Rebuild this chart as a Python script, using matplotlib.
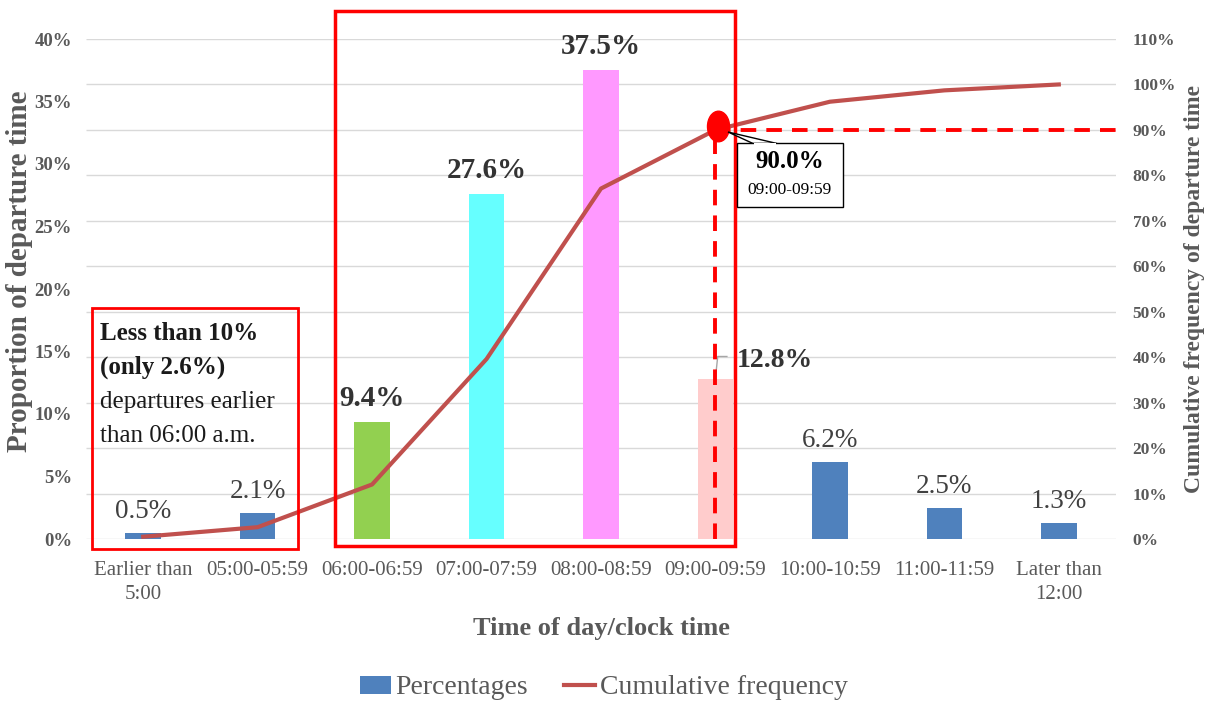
import matplotlib.pyplot as plt
import numpy as np
from matplotlib.patches import Rectangle, Polygon
from matplotlib.path import Path
from matplotlib.transforms import Affine2D

plt.rcParams['font.family'] = ['Liberation Serif', 'DejaVu Serif']

# departure time distribution
slots = ['Earlier than\n5:00', '05:00-05:59', '06:00-06:59', '07:00-07:59', '08:00-08:59',
         '09:00-09:59', '10:00-10:59', '11:00-11:59', 'Later than\n12:00']
share = [0.5, 2.1, 9.4, 27.6, 37.5, 12.8, 6.2, 2.5, 1.3]
cumulative = [0.5, 2.6, 12.0, 39.6, 77.1, 90.0, 96.2, 98.7, 100.0]
bar_colors = ['#4F81BD', '#4F81BD', '#92D050', '#66FFFF', '#FF99FF',
              '#FFCCCC', '#4F81BD', '#4F81BD', '#4F81BD']
bold_label = [False, False, True, True, True, True, False, False, False]
left_ticks = [0, 5, 10, 15, 20, 25, 30, 35, 40]
right_ticks = [0, 10, 20, 30, 40, 50, 60, 70, 80, 90, 100, 110]
note_lines = ['Less than 10%', '(only 2.6%)', 'departures earlier', 'than 06:00 a.m.']
peak_idx = 5

W, H = 1208, 705
fig = plt.figure(figsize=(W / 100, H / 100), dpi=100)
ax = fig.add_axes([86 / W, 1 - 539 / H, 1030 / W, 500 / H])
ax2 = ax.twinx()

x = np.arange(len(slots))
grey = '#595959'

# grid follows the right-hand axis
ax.set_ylim(0, 40)
ax2.set_ylim(0, 110)
ax.set_xlim(-0.5, len(slots) - 0.5)
ax.hlines(np.array(right_ticks) * 40 / 110, -0.5, len(slots) - 0.5,
          color='#D9D9D9', lw=1, zorder=0)

ax.bar(x, share, width=0.31, color=bar_colors, zorder=2, label='Percentages')
ax2.plot(x, cumulative, color='#C0504D', lw=3, label='Cumulative frequency', zorder=3)

for i, v in enumerate(share):
    if i == peak_idx:
        ax.text(i + 0.19, v + 1.5, f'{v}%', ha='left', va='center',
                fontsize=20, fontweight='bold', color='#333333')
        ax.plot([i, i + 0.02, i + 0.1], [v + 0.1, v + 1.8, v + 1.8], color='#A6A6A6', lw=1,
                zorder=3)
    elif bold_label[i]:
        ax.text(i, v + 0.8, f'{v}%', ha='center', va='bottom', fontsize=21,
                fontweight='bold', color='#333333')
    else:
        ax.text(i, v + 0.7, f'{v}%', ha='center', va='bottom', fontsize=19.5, color='#404040')

# 90% marker with dashed guides
ax2.plot([peak_idx, len(slots) - 0.5], [cumulative[peak_idx]] * 2, color='red', lw=2.8,
         dashes=(4, 2.6), zorder=4, clip_on=False)
ax2.plot([peak_idx, peak_idx], [0, cumulative[peak_idx]], color='red', lw=2.8,
         dashes=(4, 2.6), zorder=4)
oval = Path.unit_circle().transformed(Affine2D().scale(0.72, 1.0))
ax2.plot(peak_idx + 0.02, cumulative[peak_idx] + 0.9, marker=oval, color='red', ms=22,
         ls='none', zorder=5)

# callout for the 90% point
px = lambda xp, yp: (xp / W, 1 - yp / H)
fig.patches.append(Polygon([px(728, 132), px(753, 143.5), px(777, 143.5)], closed=True,
                           transform=fig.transFigure, fc='white', ec='black', lw=1, zorder=11))
fig.patches.append(Rectangle(px(737, 207), 106 / W, 64 / H, transform=fig.transFigure,
                             fc='white', ec='black', lw=1, zorder=12))
fig.patches.append(Polygon([px(754, 144), px(776, 144)], closed=False,
                           transform=fig.transFigure, ec='white', lw=1.5, zorder=12.5))
fig.text(790 / W, 1 - 162 / H, f'{cumulative[peak_idx]:.1f}%', ha='center', va='center',
         fontsize=18, fontweight='bold', color='black', zorder=13)
fig.text(790 / W, 1 - 190 / H, slots[peak_idx], ha='center', va='center', fontsize=12.5,
         color='black', zorder=13)

# highlight boxes
fig.patches.append(Rectangle(px(335, 546), 400 / W, 535 / H, transform=fig.transFigure,
                             fill=False, ec='red', lw=2.5, zorder=10))
fig.patches.append(Rectangle(px(92, 549), 206 / W, 241 / H, transform=fig.transFigure,
                             fill=False, ec='red', lw=2, zorder=10))
for k, line in enumerate(note_lines):
    fig.text(100 / W, 1 - (333 + 34.3 * k) / H, line, fontsize=18,
             fontweight='bold' if k < 2 else 'normal', color='#1a1a1a', va='center')

# axes styling
ax.set_xticks(x)
ax.set_xticklabels(slots, fontsize=15, color=grey, linespacing=1.35)
ax.set_yticks(left_ticks)
ax.set_yticklabels([f'{t}%' for t in left_ticks], fontsize=13.5, fontweight='bold', color=grey)
ax2.set_yticks(right_ticks)
ax2.set_yticklabels([f'{t}%' for t in right_ticks], fontsize=12.5, fontweight='bold', color=grey)
for a in (ax, ax2):
    for s in a.spines.values():
        s.set_visible(False)
    a.tick_params(length=0)
ax.tick_params(axis='x', pad=16)
ax.tick_params(axis='y', pad=10)
ax2.tick_params(axis='y', pad=12)

ax.set_xlabel('Time of day/clock time', fontsize=19, fontweight='bold', color=grey,
              va='center')
ax.xaxis.set_label_coords(0.5, -(629 - 539) / 500)
ax.set_ylabel('Proportion of departure time', fontsize=21, fontweight='bold', color=grey,
              va='center')
ax.yaxis.set_label_coords((20 - 86) / 1030, (539 - 271) / 500)
ax2.set_ylabel('Cumulative frequency of departure time', fontsize=17, fontweight='bold',
               color=grey, labelpad=6)

h1, l1 = ax.get_legend_handles_labels()
h2, l2 = ax2.get_legend_handles_labels()
fig.legend(h1 + h2, l1 + l2, loc='center', bbox_to_anchor=(0.5, 1 - 688 / H), ncol=2,
           frameon=False, fontsize=20, labelcolor=grey, handlelength=1.1, handleheight=0.6,
           handletextpad=0.18, columnspacing=1.3)

fig.savefig('out.png', dpi=100)
